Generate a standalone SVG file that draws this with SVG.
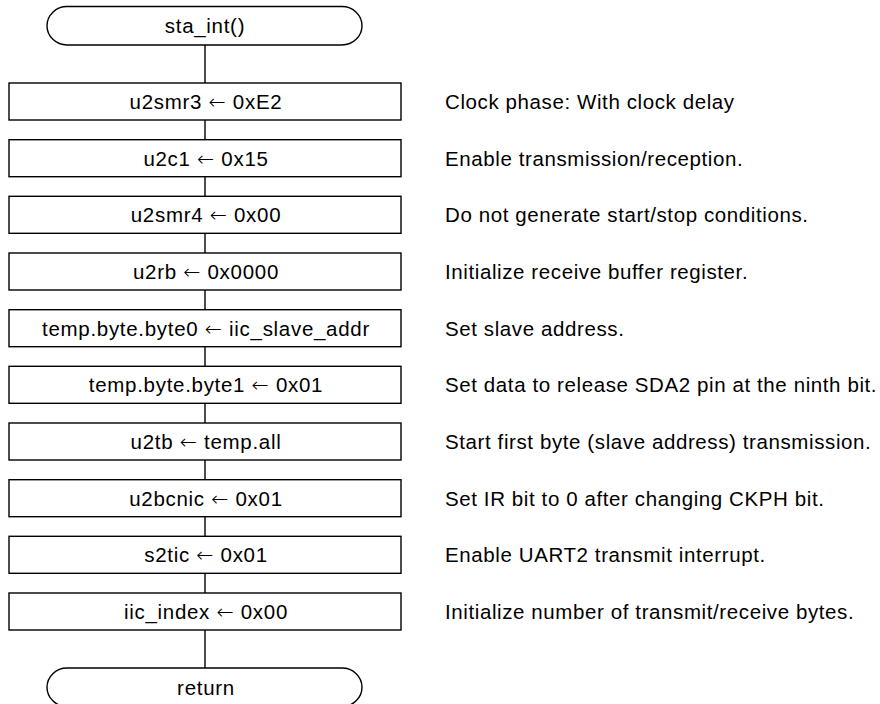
<svg xmlns="http://www.w3.org/2000/svg" width="880" height="704" viewBox="0 0 880 704">
  <style>
    .shape { fill: #ffffff; stroke: #000000; stroke-width: 1.4; }
    .link { stroke: #000000; stroke-width: 1.4; fill: none; }
    .label { font-family: "Liberation Sans", Arial, sans-serif; font-size: 20.5px; letter-spacing: 0.7px; fill: #000000; text-anchor: middle; }
    .note { font-family: "Liberation Sans", Arial, sans-serif; font-size: 20.5px; letter-spacing: 0.6px; fill: #000000; }
    .arrow { font-family: "DejaVu Sans", sans-serif; font-weight: 200; }
  </style>
  <rect width="880" height="704" fill="#ffffff"/>

  <!-- vertical flow line through every step -->
  <g id="connectors">
    <line class="link" x1="205" y1="45" x2="205" y2="83"/>
    <line class="link" x1="205" y1="120" x2="205" y2="139.7"/>
    <line class="link" x1="205" y1="176.7" x2="205" y2="196.3"/>
    <line class="link" x1="205" y1="233.3" x2="205" y2="253"/>
    <line class="link" x1="205" y1="290" x2="205" y2="309.7"/>
    <line class="link" x1="205" y1="346.7" x2="205" y2="366.3"/>
    <line class="link" x1="205" y1="403.3" x2="205" y2="423"/>
    <line class="link" x1="205" y1="460" x2="205" y2="479.7"/>
    <line class="link" x1="205" y1="516.7" x2="205" y2="536.3"/>
    <line class="link" x1="205" y1="573.3" x2="205" y2="593"/>
    <line class="link" x1="205" y1="630" x2="205" y2="668"/>
  </g>

  <g id="start">
    <rect class="shape" x="47" y="6.5" width="315" height="38.5" rx="20" ry="19.25"/>
    <text class="label" x="205" y="33">sta_int()</text>
  </g>

  <g id="step1">
    <rect class="shape" x="9" y="83" width="392" height="37"/>
    <text class="label" x="206" y="109">u2smr3 <tspan class="arrow">←</tspan> 0xE2</text>
  </g>
  <g id="step2">
    <rect class="shape" x="9" y="139.7" width="392" height="37"/>
    <text class="label" x="206" y="165.7">u2c1 <tspan class="arrow">←</tspan> 0x15</text>
  </g>
  <g id="step3">
    <rect class="shape" x="9" y="196.3" width="392" height="37"/>
    <text class="label" x="206" y="222.3">u2smr4 <tspan class="arrow">←</tspan> 0x00</text>
  </g>
  <g id="step4">
    <rect class="shape" x="9" y="253" width="392" height="37"/>
    <text class="label" x="206" y="279">u2rb <tspan class="arrow">←</tspan> 0x0000</text>
  </g>
  <g id="step5">
    <rect class="shape" x="9" y="309.7" width="392" height="37"/>
    <text class="label" x="206" y="335.7">temp.byte.byte0 <tspan class="arrow">←</tspan> iic_slave_addr</text>
  </g>
  <g id="step6">
    <rect class="shape" x="9" y="366.3" width="392" height="37"/>
    <text class="label" x="206" y="392.3">temp.byte.byte1 <tspan class="arrow">←</tspan> 0x01</text>
  </g>
  <g id="step7">
    <rect class="shape" x="9" y="423" width="392" height="37"/>
    <text class="label" x="206" y="449">u2tb <tspan class="arrow">←</tspan> temp.all</text>
  </g>
  <g id="step8">
    <rect class="shape" x="9" y="479.7" width="392" height="37"/>
    <text class="label" x="206" y="505.7">u2bcnic <tspan class="arrow">←</tspan> 0x01</text>
  </g>
  <g id="step9">
    <rect class="shape" x="9" y="536.3" width="392" height="37"/>
    <text class="label" x="206" y="562.3">s2tic <tspan class="arrow">←</tspan> 0x01</text>
  </g>
  <g id="step10">
    <rect class="shape" x="9" y="593" width="392" height="37"/>
    <text class="label" x="206" y="619">iic_index <tspan class="arrow">←</tspan> 0x00</text>
  </g>

  <g id="end">
    <rect class="shape" x="47" y="668" width="315" height="38.5" rx="20" ry="19.25"/>
    <text class="label" x="206" y="694.5">return</text>
  </g>

  <!-- comments beside each step -->
  <g id="notes">
    <text class="note" x="445" y="109">Clock phase: With clock delay</text>
    <text class="note" x="445" y="165.7">Enable transmission/reception.</text>
    <text class="note" x="445" y="222.3">Do not generate start/stop conditions.</text>
    <text class="note" x="445" y="279">Initialize receive buffer register.</text>
    <text class="note" x="445" y="335.7">Set slave address.</text>
    <text class="note" x="445" y="392.3">Set data to release SDA2 pin at the ninth bit.</text>
    <text class="note" x="445" y="449">Start first byte (slave address) transmission.</text>
    <text class="note" x="445" y="505.7">Set IR bit to 0 after changing CKPH bit.</text>
    <text class="note" x="445" y="562.3">Enable UART2 transmit interrupt.</text>
    <text class="note" x="445" y="619">Initialize number of transmit/receive bytes.</text>
  </g>
</svg>
